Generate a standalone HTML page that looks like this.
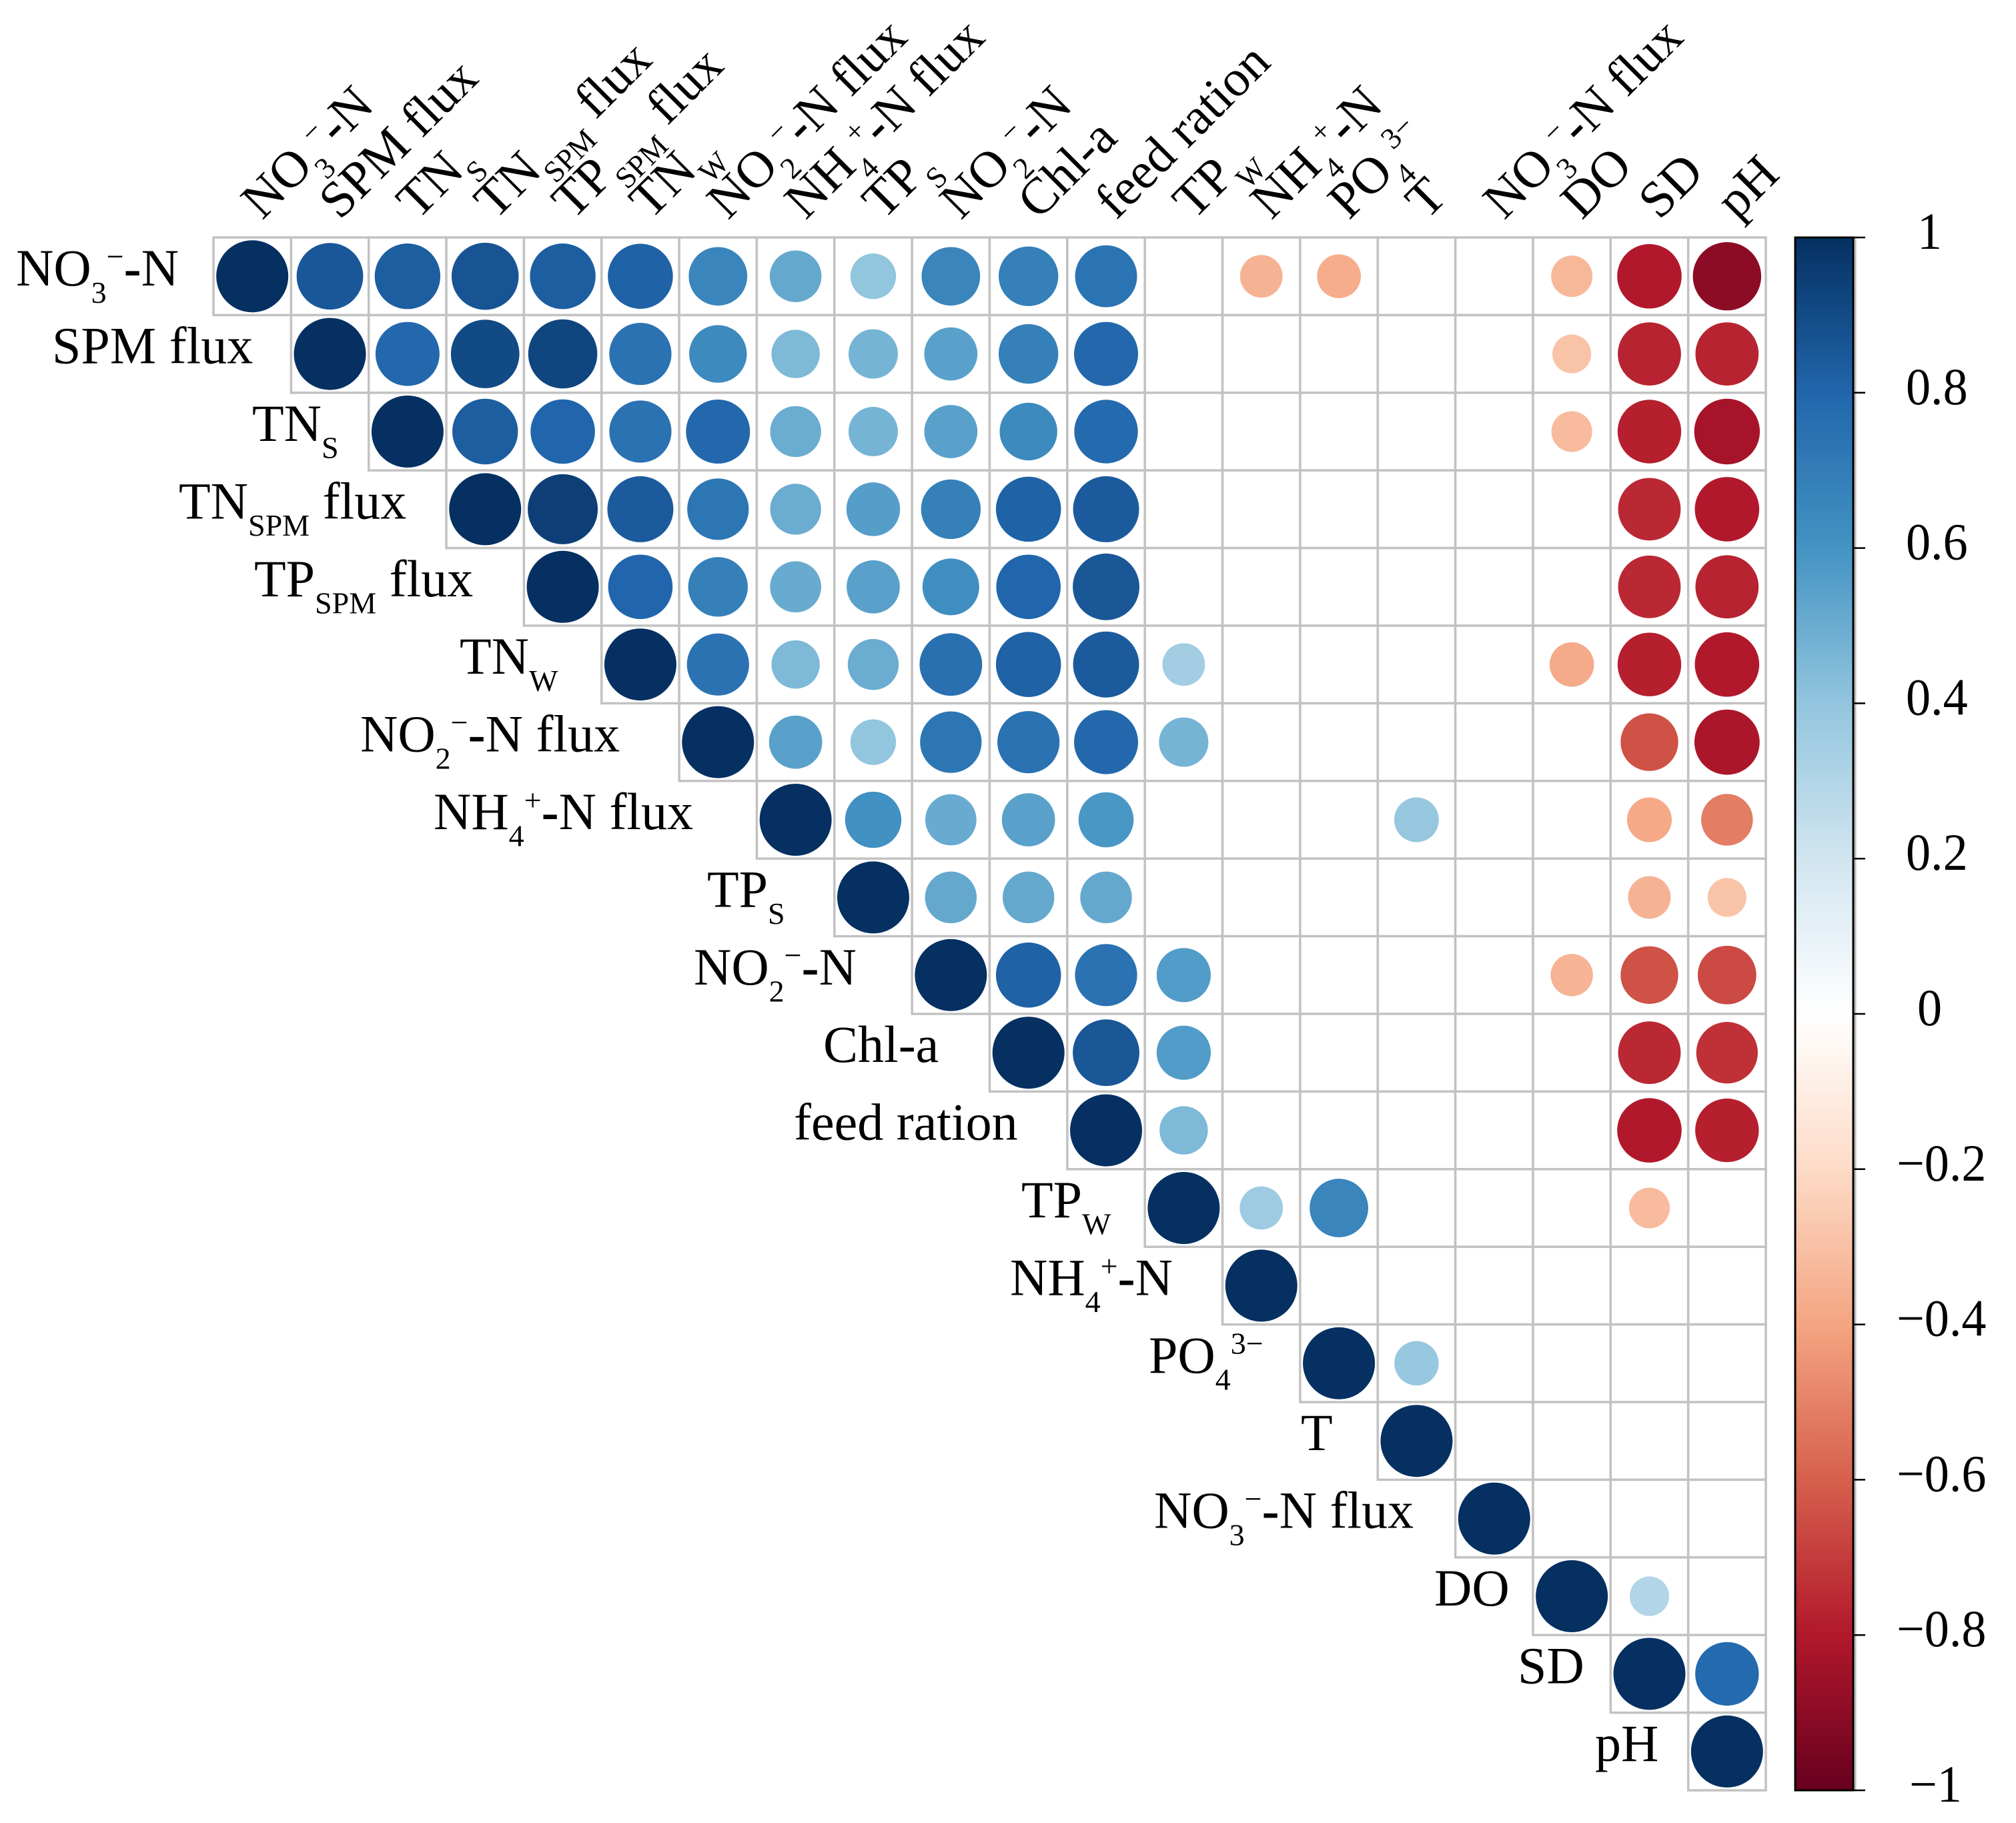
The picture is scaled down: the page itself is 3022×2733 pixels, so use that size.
<!DOCTYPE html>
<html lang="en">
<head>
<meta charset="utf-8">
<title>Correlation matrix</title>
<style>
html,body{margin:0;padding:0;background:#fff;}
svg{display:block;}
text{font-family:"Liberation Serif","DejaVu Serif",serif;fill:#000;}
</style>
</head>
<body>
<svg id="chart" xmlns="http://www.w3.org/2000/svg" width="3022" height="2733" viewBox="0 0 3022 2733">
<rect x="0" y="0" width="3022" height="2733" fill="#fff"/>
<g id="cells"></g>
<g id="circles"></g>
<g id="rowLabels"></g>
<g id="colLabels"></g>
<g id="legend"></g>
</svg>
<script>
const categories = ['NO{_3}{^−}{-}N','SPM flux','TN{_S}','TN{_SPM} flux','TP{_SPM} flux','TN{_W}','NO{_2}{^−}{-}N flux','NH{_4}{^+}{-}N flux','TP{_S}','NO{_2}{^−}{-}N','Chl-a','feed ration','TP{_W}','NH{_4}{^+}{-}N','PO{_4}{^3−}','T','NO{_3}{^−}{-}N flux','DO','SD','pH'];
const _ = null;
const row01 = [1,.854,.83,.867,.83,.816,.66,.515,.40,.66,.685,.74,_,-.35,-.37,_,_,-.33,-.80,-.90];
const row02 = [1,.79,.905,.92,.745,.64,.45,.47,.545,.685,.79,_,_,_,_,_,-.29,-.77,-.77];
const row03 = [1,.83,.80,.745,.79,.50,.47,.545,.64,.78,_,_,_,_,_,-.32,-.78,-.83];
const row04 = [1,.945,.84,.73,.50,.555,.685,.816,.84,_,_,_,_,_,_,-.755,-.80];
const row05 = [1,.80,.685,.505,.545,.62,.80,.855,_,_,_,_,_,_,-.755,-.77];
const row06 = [1,.745,.45,.50,.755,.816,.84,.35,_,_,_,_,-.38,-.78,-.80];
const row07 = [1,.545,.40,.73,.745,.79,.47,_,_,_,_,_,-.64,-.82];
const row08 = [1,.61,.505,.545,.585,_,_,_,.385,_,_,-.385,-.515];
const row09 = [1,.515,.515,.515,_,_,_,_,_,_,-.35,-.29];
const row10 = [1,.816,.745,.565,_,_,_,_,-.345,-.64,-.66];
const row11 = [1,.855,.565,_,_,_,_,_,-.755,-.73];
const row12 = [1,.45,_,_,_,_,_,-.80,-.78];
const row13 = [1,.36,.66,_,_,_,-.32,_];
const row14 = [1,_,_,_,_,_,_];
const row15 = [1,.38,_,_,_,_];
const row16 = [1,_,_,_,_];
const row17 = [1,_,_,_];
const row18 = [1,.30,_];
const row19 = [1,.78];
const row20 = [1];
const correlationRows = [row01,row02,row03,row04,row05,row06,row07,row08,row09,row10,row11,row12,row13,row14,row15,row16,row17,row18,row19,row20];
const legendTicks = ['1','0.8','0.6','0.4','0.2','0','−0.2','−0.4','−0.6','−0.8','−1'];
const legendValues = [1,.8,.6,.4,.2,0,-.2,-.4,-.6,-.8,-1];
const colorScaleHex = ['67001F','B2182B','D6604D','F4A582','FDDBC7','FFFFFF','D1E5F0','92C5DE','4393C3','2166AC','053061'];
const rowLabelStart = [24,78,378,268,381,689,540,650,1060,1040,1234,1190,1531,1514,1722,1950,1730,2150,2275,2391];

const NS = 'http://www.w3.org/2000/svg';
const plotLeft = 320, plotTop = 356, cellW = 116.35, cellH = 116.4, maxRadius = 54;
const xScale = c => plotLeft + cellW * c;
const yScale = r => plotTop + cellH * r;
const radiusScale = v => maxRadius * Math.sqrt(Math.abs(v));
const legendY = v => 356 + (1 - v) * 1164;

function colorFor(v) {
  const t = (v + 1) / 2 * (colorScaleHex.length - 1);
  const i = Math.min(Math.floor(t), colorScaleHex.length - 2);
  const f = t - i;
  const a = colorScaleHex[i], b = colorScaleHex[i + 1];
  const ch = k => {
    const p = parseInt(a.substr(k, 2), 16), q = parseInt(b.substr(k, 2), 16);
    return Math.round(p + (q - p) * f);
  };
  return 'rgb(' + ch(0) + ',' + ch(2) + ',' + ch(4) + ')';
}

function fillRich(textEl, src, base) {
  const parts = src.split(/(\{[^}]*\})/).filter(s => s.length);
  let cur = 0;
  parts.forEach(p => {
    const ts = document.createElementNS(NS, 'tspan');
    let off = 0, size = base, str = p, weight = null;
    if (p[0] === '{') {
      const kind = p[1];
      if (kind === '_') { off = base * 0.33; size = base * 0.59; str = p.slice(2, -1); }
      else if (kind === '^') { off = -base * 0.36; size = base * 0.59; str = p.slice(2, -1); }
      else { weight = 'bold'; str = p.slice(1, -1); }
    }
    ts.setAttribute('font-size', size.toFixed(1));
    ts.setAttribute('dy', (off - cur).toFixed(1));
    if (weight) ts.setAttribute('font-weight', weight);
    ts.textContent = str;
    cur = off;
    textEl.appendChild(ts);
  });
}

const cellsG = document.getElementById('cells');
const circlesG = document.getElementById('circles');
correlationRows.forEach((values, r) => {
  values.forEach((v, k) => {
    const c = r + k;
    const rect = document.createElementNS(NS, 'rect');
    
    
    rect.setAttribute('x', xScale(c));
    rect.setAttribute('y', yScale(r));
    rect.setAttribute('width', cellW);
    rect.setAttribute('height', cellH);
    rect.setAttribute('fill', '#fff');
    rect.setAttribute('stroke', '#c2c2c2');
    rect.setAttribute('stroke-width', '3.5');
    cellsG.appendChild(rect);
    if (v === null) return;
    const dot = document.createElementNS(NS, 'circle');
    
    
    dot.setAttribute('cx', xScale(c + 0.5));
    dot.setAttribute('cy', yScale(r + 0.5));
    dot.setAttribute('r', radiusScale(v));
    dot.setAttribute('fill', colorFor(v));
    circlesG.appendChild(dot);
  });
});

const rowG = document.getElementById('rowLabels');
categories.forEach((label, r) => {
  const t = document.createElementNS(NS, 'text');
  
  
  t.setAttribute('transform', 'translate(' + rowLabelStart[r] + ',' + (yScale(r + 0.5) + 14) + ')');
  t.setAttribute('xml:space', 'preserve');
  fillRich(t, label, 78);
  rowG.appendChild(t);
});

const colG = document.getElementById('colLabels');
categories.forEach((label, c) => {
  const t = document.createElementNS(NS, 'text');
  
  
  t.setAttribute('transform', 'translate(' + (xScale(c + 0.5) + 15) + ',331) rotate(-45)');
  t.setAttribute('xml:space', 'preserve');
  fillRich(t, label, 77);
  colG.appendChild(t);
});

const legendG = document.getElementById('legend');
const defs = document.createElementNS(NS, 'defs');
const grad = document.createElementNS(NS, 'linearGradient');
grad.setAttribute('id', 'legendGradient');
grad.setAttribute('x1', '0');
grad.setAttribute('y1', '0');
grad.setAttribute('x2', '0');
grad.setAttribute('y2', '1');
colorScaleHex.slice().reverse().forEach((hex, i) => {
  const s = document.createElementNS(NS, 'stop');
  s.setAttribute('offset', (i / (colorScaleHex.length - 1)).toFixed(3));
  s.setAttribute('stop-color', '#' + hex);
  grad.appendChild(s);
});
defs.appendChild(grad);
legendG.appendChild(defs);

const shadow = document.createElementNS(NS, 'line');


shadow.setAttribute('x1', '2781');
shadow.setAttribute('x2', '2781');
shadow.setAttribute('y1', '356');
shadow.setAttribute('y2', '2684');
shadow.setAttribute('stroke', '#bdbdbd');
shadow.setAttribute('stroke-width', '3');
legendG.appendChild(shadow);

const bar = document.createElementNS(NS, 'rect');


bar.setAttribute('x', '2691');
bar.setAttribute('y', '356');
bar.setAttribute('width', '87');
bar.setAttribute('height', '2328');
bar.setAttribute('fill', 'url(#legendGradient)');
bar.setAttribute('stroke', '#000');
bar.setAttribute('stroke-width', '3');
legendG.appendChild(bar);

legendTicks.forEach((label, i) => {
  const y = legendY(legendValues[i]);
  const tick = document.createElementNS(NS, 'line');
  
  
  tick.setAttribute('x1', '2778');
  tick.setAttribute('x2', '2796');
  tick.setAttribute('y1', y);
  tick.setAttribute('y2', y);
  tick.setAttribute('stroke', '#000');
  tick.setAttribute('stroke-width', '2.5');
  legendG.appendChild(tick);
  const neg = label[0] === '−';
  const x = neg ? (label.length > 2 ? 2843 : 2862) : (label.length > 1 ? 2857 : 2874);
  const t = document.createElementNS(NS, 'text');
  
  
  t.setAttribute('transform', 'translate(' + x + ',' + (y + 17) + ') scale(0.95,1)');
  t.setAttribute('font-size', '78');
  t.textContent = label;
  legendG.appendChild(t);
});
</script>
</body>
</html>
